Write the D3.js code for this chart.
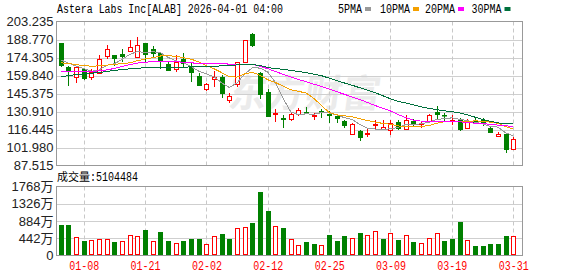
<!DOCTYPE html>
<html>
<head>
<meta charset="utf-8">
<script src="https://cdn.jsdelivr.net/npm/d3@7"></script>
<style>
body { margin: 0; background: #fff; }
svg { display: block; }
</style>
</head>
<body>
<script>
const width = 578;
const height = 276;

// trading days shown (2026)
const dates = [
    "01-05","01-06","01-07","01-08","01-09","01-12","01-13","01-14","01-15","01-16",
    "01-20","01-21","01-22","01-23","01-26","01-27","01-28","01-29","01-30","02-02",
    "02-03","02-04","02-05","02-06","02-09","02-10","02-11","02-12","02-13","02-17",
    "02-18","02-19","02-20","02-23","02-24","02-25","02-26","02-27","03-02","03-03",
    "03-04","03-05","03-06","03-09","03-10","03-11","03-12","03-13","03-16","03-17",
    "03-18","03-19","03-20","03-23","03-24","03-25","03-26","03-27","03-30","03-31"
];
const gridDates = ["01-08","01-21","02-02","02-12","02-25","03-09","03-19","03-31"];

const opens = [185.6,166.3,158.7,165.3,159.0,161.5,175.7,176.2,177.0,179.7,
    174.4,185.7,181.1,177.6,168.9,165.2,172.8,167.3,159.3,148.6,
    156.9,158.5,140.5,152.8,170.6,192.8,161.5,146.6,128.6,125.9,
    125.2,129.2,130.8,127.4,131.1,128.6,127.0,123.0,113.1,114.9,
    112.5,119.8,116.8,115.7,122.4,116.5,123.0,121.1,123.2,130.5,
    127.8,123.6,123.8,117.9,123.0,124.4,117.6,111.5,112.5,101.0];
const closes = [167.6,162.7,166.3,157.1,162.5,172.8,181.1,173.2,174.4,182.4,
    184.3,176.5,177.0,170.8,163.6,170.8,169.0,161.5,151.5,152.8,
    158.5,145.3,143.1,170.3,188.3,183.5,144.0,126.5,129.4,123.8,
    129.2,132.4,130.3,127.7,130.3,127.6,124.6,119.2,120.6,109.8,
    113.9,120.6,118.7,121.6,116.5,124.4,120.8,121.6,127.8,128.4,
    127.0,124.4,115.7,122.4,121.9,120.8,113.6,113.1,100.2,109.0];
const highs = [185.9,167.7,167.6,166.0,164.7,176.2,184.3,176.2,180.8,188.3,
    191.0,185.9,183.5,178.9,170.8,176.2,177.6,169.5,162.0,154.2,
    163.3,160.1,145.8,170.6,188.3,194.1,162.8,148.6,133.2,127.8,
    130.5,134.0,134.5,129.7,132.7,131.1,129.2,124.4,121.6,116.3,
    117.1,124.4,124.4,123.8,123.8,128.4,124.6,123.0,129.2,135.3,
    129.7,127.8,125.4,125.2,125.6,126.0,119.2,114.4,113.6,110.3];
const lows = [166.5,151.5,154.2,156.5,156.3,161.3,173.0,167.6,170.8,178.9,
    174.2,170.6,173.8,164.7,163.3,162.5,166.3,154.4,151.2,147.2,
    150.2,141.8,137.7,150.7,170.3,182.7,141.3,126.2,122.4,117.6,
    123.0,127.3,128.6,124.4,126.0,121.6,121.6,117.6,111.7,106.9,
    110.3,117.1,116.8,112.3,115.7,116.5,118.4,117.6,123.0,124.6,
    123.6,120.3,115.3,117.7,121.1,119.2,113.3,111.5,97.4,99.6];
// volume in 万 shares
const volumes = [770,794,478,384,401,427,427,358,375,529,
    503,665,384,614,384,333,384,435,410,307,
    503,563,435,708,734,845,1638,1152,760,717,
    427,274,358,282,274,538,384,503,452,589,
    529,631,427,580,401,529,358,324,452,580,
    384,410,870,401,256,256,307,282,512,510];

const ma5 = [172.5,169.8,167.5,165.5,163.2,164.3,168.0,169.3,172.8,176.8,
    179.1,178.2,178.9,178.2,174.4,171.7,170.2,167.1,163.3,161.1,
    158.7,153.9,150.2,154.0,161.1,166.1,165.8,162.5,154.3,141.4,
    130.6,128.3,129.0,128.7,130.0,129.7,128.1,125.9,124.5,120.4,
    117.6,116.8,116.7,116.9,118.3,120.4,120.4,121.0,122.2,124.6,
    125.1,125.8,124.7,123.6,122.3,121.0,118.9,118.4,113.9,111.3];
const ma10 = [170.0,169.5,168.6,167.8,167.3,167.6,168.2,168.8,169.4,170.0,
    171.7,173.1,174.1,175.5,175.6,175.4,174.2,173.0,170.7,167.8,
    165.2,162.1,158.7,158.6,161.1,162.4,159.9,156.4,154.2,151.3,
    148.3,147.1,145.8,141.5,135.7,130.1,128.2,127.5,126.6,125.2,
    123.6,122.5,121.3,120.7,119.3,119.0,118.6,118.9,119.6,121.4,
    122.7,123.1,122.8,122.9,123.4,123.1,122.4,121.5,118.8,116.8];
const ma20 = [163.3,163.2,163.0,162.9,163.0,163.6,164.3,165.5,167.0,168.6,
    169.8,170.5,171.0,171.2,171.1,170.9,170.5,170.0,169.6,169.4,
    169.4,169.3,169.0,168.8,168.6,168.7,167.2,165.3,163.1,160.7,
    158.6,156.7,154.8,152.9,151.1,149.0,146.8,144.7,142.6,140.5,
    138.2,135.7,133.5,131.3,128.5,126.0,124.0,123.2,122.8,122.6,
    122.6,122.6,122.6,122.1,121.5,121.2,120.6,120.0,119.4,118.9];
const ma30 = [158.9,159.7,160.6,161.1,161.7,162.2,163.1,163.9,164.7,165.2,
    165.6,166.1,166.3,166.4,166.5,166.5,166.6,166.7,166.8,166.9,
    167.2,167.6,168.0,168.3,168.6,168.6,167.9,166.2,165.4,164.8,
    163.9,163.1,162.1,160.9,159.7,157.7,155.7,153.8,152.0,150.0,
    148.0,146.0,143.6,141.1,139.1,137.7,136.3,134.7,133.5,132.4,
    131.5,130.7,129.9,128.2,126.4,124.6,123.0,121.8,121.1,120.9];

const priceTicks = ["203.235","188.770","174.305","159.840","145.375","130.910","116.445","101.980","87.515"];
const volTicks = [0, 442, 884, 1326, 1768];
const maLabels = ["5PMA", "10PMA", "20PMA", "30PMA"];
const title = "Astera Labs Inc[ALAB] 2026-04-01 04:00";
const lastVolume = "5104484";

const red = "#ff0000";
const green = "#008000";
const maColors = ["#999999", "#f4a000", "#ff00ff", "#00703c"];
const legendX = [338, 380, 425, 471.5];
const monoFont = "'Liberation Mono', 'DejaVu Sans Mono', monospace";
const axisFont = "'Liberation Sans', Arial, 'Noto Sans CJK SC', sans-serif";

const left = 56.5, right = 522.5;
const top1 = 21.5, bottom1 = 165.5;
const top2 = 186.5, bottom2 = 255.5;

const svg = d3.select("body")
    .append("svg")
    .attr("width", width)
    .attr("height", height);

const x = d3.scalePoint()
    .domain(dates)
    .range([60.7, 513.2]);

const y = d3.scaleLinear()
    .domain([87.515, 203.235])
    .range([bottom1, top1]);

const yVol = d3.scaleLinear()
    .domain([0, 1768])
    .range([bottom2, top2]);

const px = d => Math.round(x(d));

const data = dates.map((d, i) => ({
    date: d, o: opens[i], c: closes[i], h: highs[i], l: lows[i], v: volumes[i],
    prev: i > 0 ? closes[i - 1] : opens[i]
}));

// watermark
svg.append("text")
    .attr("x", 228)
    .attr("y", 107)
    .attr("font-family", "'Noto Sans CJK SC', sans-serif")
    .attr("font-size", 38)
    .attr("font-weight", "bold")
    .attr("fill", "#ebebeb")
    .attr("transform", "skewX(-8) translate(14,0)")
    .text("东方财富");

// horizontal grid
svg.selectAll(".hgrid")
    .data(priceTicks.slice(1, -1))
    .enter()
    .append("line")
    .attr("x1", left).attr("x2", right)
    .attr("y1", d => Math.round(y(+d)) + 0.5)
    .attr("y2", d => Math.round(y(+d)) + 0.5)
    .attr("stroke", "#cfcfcf");

svg.selectAll(".vgrid")
    .data(volTicks.slice(1, -1))
    .enter()
    .append("line")
    .attr("x1", left).attr("x2", right)
    .attr("y1", d => Math.round(yVol(d)) + 0.5)
    .attr("y2", d => Math.round(yVol(d)) + 0.5)
    .attr("stroke", "#cfcfcf");

// vertical dashed grid
[[top1, bottom1], [top2, bottom2]].forEach(([t, b]) => {
    svg.append("g")
        .selectAll("line")
        .data(gridDates)
        .enter()
        .append("line")
        .attr("x1", d => px(d) + 0.5)
        .attr("x2", d => px(d) + 0.5)
        .attr("y1", t).attr("y2", b)
        .attr("stroke", "#c8c8c8")
        .attr("stroke-dasharray", "4,3");
});

// frames
svg.append("rect")
    .attr("x", left).attr("y", top1)
    .attr("width", right - left).attr("height", bottom1 - top1)
    .attr("fill", "none").attr("stroke", "#999");
svg.append("rect")
    .attr("x", left).attr("y", top2)
    .attr("width", right - left).attr("height", bottom2 - top2)
    .attr("fill", "none").attr("stroke", "#999");

// candles
const candle = svg.append("g")
    .selectAll("g")
    .data(data)
    .enter()
    .append("g");

candle.append("line")
    .attr("x1", d => px(d.date) + 0.5)
    .attr("x2", d => px(d.date) + 0.5)
    .attr("y1", d => Math.round(y(d.h)))
    .attr("y2", d => Math.round(y(d.l)))
    .attr("stroke", d => d.c >= d.o ? red : green);

candle.append("rect")
    .attr("x", d => d.c >= d.o ? px(d.date) - 1.5 : px(d.date) - 2)
    .attr("width", d => d.c >= d.o ? 4 : 5)
    .attr("y", d => {
        const t = Math.round(y(Math.max(d.o, d.c)));
        return d.c >= d.o ? t + 0.5 : t;
    })
    .attr("height", d => {
        const h = Math.round(y(Math.min(d.o, d.c))) - Math.round(y(Math.max(d.o, d.c)));
        return d.c >= d.o ? Math.max(h, 1) : Math.max(h, 1.5);
    })
    .attr("fill", d => d.c >= d.o ? "#fff" : green)
    .attr("stroke", d => d.c >= d.o ? red : "none");

// moving averages
const maSeries = [ma5, ma10, ma20, ma30];
maSeries.forEach((s, k) => {
    svg.append("path")
        .datum(s)
        .attr("fill", "none")
        .attr("stroke", maColors[k])
        .attr("stroke-width", 1)
        .attr("shape-rendering", "crispEdges")
        .attr("d", d3.line()
            .x((v, i) => x(dates[i]))
            .y(v => y(v)));
});

// volume bars, coloured by close vs previous close
svg.append("g")
    .selectAll("rect")
    .data(data)
    .enter()
    .append("rect")
    .attr("x", d => d.c >= d.prev ? px(d.date) - 1.5 : px(d.date) - 2)
    .attr("width", d => d.c >= d.prev ? 4 : 5)
    .attr("y", d => d.c >= d.prev ? Math.round(yVol(d.v)) + 0.5 : Math.round(yVol(d.v)))
    .attr("height", d => d.c >= d.prev ? bottom2 - Math.round(yVol(d.v)) - 1.5 : bottom2 - 0.5 - Math.round(yVol(d.v)))
    .attr("fill", d => d.c >= d.prev ? "#fff" : green)
    .attr("stroke", d => d.c >= d.prev ? red : "none");

// axes
const yAxis = svg.append("g")
    .attr("transform", `translate(${left},0)`)
    .call(d3.axisLeft(y)
        .tickValues(priceTicks.map(Number))
        .tickFormat(d3.format(".3f"))
        .tickSize(0)
        .tickPadding(3));

const volAxis = svg.append("g")
    .attr("transform", `translate(${left},0)`)
    .call(d3.axisLeft(yVol)
        .tickValues(volTicks)
        .tickFormat(d => d === 0 ? "0" : d + "万")
        .tickSize(0)
        .tickPadding(3));

[yAxis, volAxis].forEach(a => {
    a.select(".domain").remove();
    a.selectAll("text")
        .attr("font-family", axisFont)
        .attr("font-size", 13)
        .attr("fill", "#222");
});

const xAxis = svg.append("g")
    .attr("transform", `translate(0,${bottom2})`)
    .call(d3.axisBottom(x)
        .tickValues(gridDates)
        .tickSize(0)
        .tickPadding(6));
xAxis.select(".domain").remove();
xAxis.selectAll("text")
    .attr("font-family", monoFont)
    .attr("font-size", 12)
    .attr("fill", red)
    .attr("textLength", 30)
    .attr("lengthAdjust", "spacingAndGlyphs");

// title and legend
svg.append("text")
    .attr("x", 57)
    .attr("y", 13)
    .attr("font-family", monoFont)
    .attr("font-size", 12)
    .attr("fill", "#000")
    .attr("textLength", title.length * 6 - 2)
    .attr("lengthAdjust", "spacingAndGlyphs")
    .text(title);

maLabels.forEach((lab, k) => {
    svg.append("text")
        .attr("x", legendX[k])
        .attr("y", 13)
        .attr("font-family", monoFont)
        .attr("font-size", 12)
        .attr("fill", "#000")
        .attr("textLength", lab.length * 6)
        .attr("lengthAdjust", "spacingAndGlyphs")
        .text(lab);
    svg.append("rect")
        .attr("x", legendX[k] + lab.length * 6 + 3)
        .attr("y", 7)
        .attr("width", 6)
        .attr("height", 4)
        .attr("fill", maColors[k]);
});

const volLabel = svg.append("text")
    .attr("x", 57)
    .attr("y", 181)
    .attr("fill", "#000");
volLabel.append("tspan")
    .attr("font-family", "'Noto Sans CJK SC', sans-serif")
    .attr("font-size", 11)
    .text("成交量");
volLabel.append("tspan")
    .attr("font-family", monoFont)
    .attr("font-size", 12)
    .attr("textLength", 48)
    .attr("lengthAdjust", "spacingAndGlyphs")
    .text(":" + lastVolume);
</script>
</body>
</html>
